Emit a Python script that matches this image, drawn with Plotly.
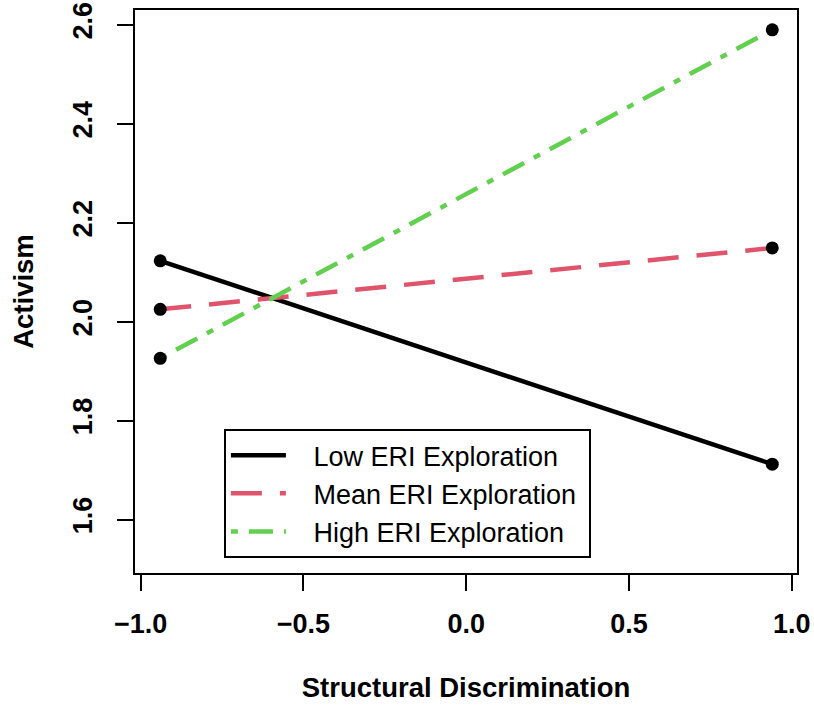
import plotly.graph_objects as go

# Data
x_levels = [-0.94, 0.94]
low_eri = [2.123, 1.712]
mean_eri = [2.025, 2.149]
high_eri = [1.926, 2.590]
series_names = ["Low ERI Exploration", "Mean ERI Exploration", "High ERI Exploration"]
x_ticks = [-1.0, -0.5, 0.0, 0.5, 1.0]
x_tick_text = ["\u22121.0", "\u22120.5", "0.0", "0.5", "1.0"]
y_ticks = [1.6, 1.8, 2.0, 2.2, 2.4, 2.6]
y_tick_text = ["1.6", "1.8", "2.0", "2.2", "2.4", "2.6"]

FONT = "Liberation Sans, Arial, sans-serif"
PAD = "\u00a0\u00a0\u00a0"

fig = go.Figure()
styles = [
    dict(color="black", dash="solid"),
    dict(color="#DF536B", dash="31px,18px"),
    dict(color="#61D04F", dash="7px,11px,24px,11px"),
]
for name, ys, st in zip(series_names, [low_eri, mean_eri, high_eri], styles):
    fig.add_trace(go.Scatter(
        x=x_levels, y=ys, mode="lines", name=PAD + name + "\u00a0",
        line=dict(color=st["color"], width=4.5, dash=st["dash"]),
    ))

# endpoint markers
for ys in [low_eri, mean_eri, high_eri]:
    fig.add_trace(go.Scatter(
        x=x_levels, y=ys, mode="markers", showlegend=False,
        marker=dict(color="black", size=13, line=dict(width=0)),
        hoverinfo="skip",
    ))

axis_common = dict(
    showgrid=False, zeroline=False, automargin=False,
    showline=True, linecolor="black", linewidth=2, mirror=True,
    ticks="outside", ticklen=16, tickwidth=2, tickcolor="black",
    tickfont=dict(family=FONT, size=27, color="black", weight="bold"),
)

fig.update_layout(
    width=814, height=706,
    margin=dict(l=135, r=16.5, t=10, b=133.3),
    paper_bgcolor="white", plot_bgcolor="white",
    font=dict(family=FONT, color="black"),
    xaxis=dict(
        range=[-1.0175, 1.016], tickvals=x_ticks, ticktext=x_tick_text,
        ticklabelstandoff=10,
        title=dict(text="Structural Discrimination",
                   font=dict(family=FONT, size=27.5, color="black", weight="bold"),
                   standoff=39),
        **axis_common,
    ),
    yaxis=dict(
        range=[1.492, 2.630], tickvals=y_ticks, ticktext=y_tick_text,
        tickangle=-90, ticklabelstandoff=14,
        title=dict(text="Activism",
                   font=dict(family=FONT, size=27.5, color="black", weight="bold"),
                   standoff=27),
        **axis_common,
    ),
    legend=dict(
        x=0.1343, y=0.2554, xanchor="left", yanchor="top",
        bordercolor="black", borderwidth=2, bgcolor="white",
        font=dict(family=FONT, size=27, color="black"),
        itemwidth=55,
    ),
    showlegend=True,
)

fig.write_html("out.html",
               config={"displayModeBar": False},
               post_script="document.body.style.margin='0px';document.body.style.overflow='hidden';")
